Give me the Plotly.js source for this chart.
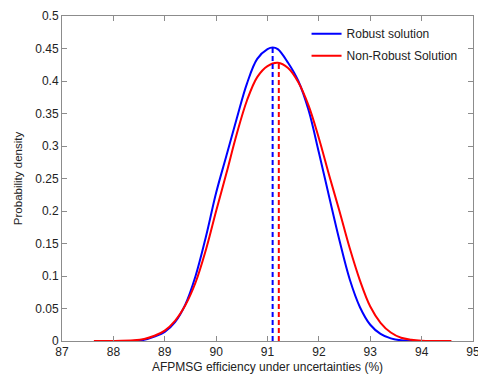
<!DOCTYPE html>
<html>
<head>
<meta charset="utf-8">
<script src="https://cdn.plot.ly/plotly-3.0.1.min.js"></script>
<style>
html,body{margin:0;padding:0;background:#fff;}
#chart{width:478px;height:374px;}
</style>
</head>
<body>
<div id="chart"></div>
<script>
// Robust solution (blue)
const robustX = [88.38, 88.6, 88.8, 89.0, 89.2, 89.4, 89.6, 89.8, 90.0, 90.2, 90.4, 90.6, 90.8, 91.0, 91.1, 91.2, 91.4, 91.6, 91.8, 92.0, 92.2, 92.4, 92.6, 92.8, 93.0, 93.2, 93.4, 93.6, 93.87];
const robustY = [0.000, 0.002, 0.007, 0.014, 0.029, 0.056, 0.100, 0.160, 0.228, 0.285, 0.342, 0.396, 0.434, 0.449, 0.4515, 0.449, 0.428, 0.400, 0.355, 0.290, 0.222, 0.155, 0.095, 0.052, 0.025, 0.011, 0.004, 0.001, 0.000];
// Non-robust solution (red)
const nonRobustX = [87.62, 88.0, 88.4, 88.6, 88.8, 89.0, 89.2, 89.4, 89.6, 89.8, 90.0, 90.2, 90.4, 90.6, 90.8, 91.0, 91.2, 91.4, 91.6, 91.8, 92.0, 92.2, 92.4, 92.6, 92.8, 93.0, 93.2, 93.4, 93.6, 93.8, 94.0, 94.2, 94.58];
const nonRobustY = [0.000, 0.000, 0.001, 0.003, 0.008, 0.016, 0.031, 0.055, 0.090, 0.140, 0.200, 0.258, 0.318, 0.370, 0.406, 0.423, 0.428, 0.420, 0.398, 0.362, 0.312, 0.255, 0.200, 0.143, 0.093, 0.053, 0.028, 0.013, 0.005, 0.002, 0.0005, 0.000, 0.000];
// Means (dashed markers)
const robustMean = 91.1, robustPeak = 0.4515;
const nonRobustMean = 91.22, nonRobustPeak = 0.428;
const seriesNames = ["Robust solution", "Non-Robust Solution"];
const xTicks = [87, 88, 89, 90, 91, 92, 93, 94, 95];
const yTicks = [0, 0.05, 0.1, 0.15, 0.2, 0.25, 0.3, 0.35, 0.4, 0.45, 0.5];
const yTickText = ["0", "0.05", "0.1", "0.15", "0.2", "0.25", "0.3", "0.35", "0.4", "0.45", "0.5"];

const BLUE = "#0000ff", RED = "#ff0000";
const traces = [
  {x: robustX, y: robustY, mode: "lines", name: seriesNames[0], legendgroup: "a",
   line: {color: BLUE, width: 2, shape: "spline", smoothing: 1}},
  {x: nonRobustX, y: nonRobustY, mode: "lines", name: seriesNames[1], legendgroup: "b",
   line: {color: RED, width: 2, shape: "spline", smoothing: 1}},
  {x: [robustMean, robustMean], y: [0, robustPeak], mode: "lines", showlegend: false, line: {color: BLUE, width: 2, dash: "5px,3px"}},
  {x: [nonRobustMean, nonRobustMean], y: [0, nonRobustPeak], mode: "lines", showlegend: false, line: {color: RED, width: 2, dash: "5px,3px"}}
];

const axisCommon = {
  showgrid: false, zeroline: false, showline: true, linecolor: "#8c8c8c", linewidth: 1,
  mirror: "ticks", ticks: "inside", ticklen: 5, tickcolor: "#8c8c8c", tickwidth: 1,
  ticklabeloverflow: "allow",
  tickfont: {family: "Liberation Sans, Arial, sans-serif", size: 12, color: "#222"}
};

const layout = {
  width: 478, height: 374,
  margin: {l: 62, r: 5, t: 16, b: 33, pad: 0},
  paper_bgcolor: "#fff", plot_bgcolor: "#fff",
  font: {family: "Liberation Sans, Arial, sans-serif", color: "#222"},
  showlegend: true,
  legend: {x: 0.595, y: 0.99, xanchor: "left", yanchor: "top", bgcolor: "rgba(0,0,0,0)", borderwidth: 0,
           font: {size: 12, color: "#222"}, tracegroupgap: 3, itemwidth: 30},
  xaxis: Object.assign({}, axisCommon, {
    range: [87, 95], tickvals: xTicks, ticktext: xTicks.map(String),
    title: {text: "AFPMSG efficiency under uncertainties (%)", font: {size: 12, color: "#222"}, standoff: 4}
  }),
  yaxis: Object.assign({}, axisCommon, {
    range: [0, 0.5], tickvals: yTicks, ticktext: yTickText,
    title: {text: "Probability density", font: {size: 11.5, color: "#222"}, standoff: 10}
  })
};

Plotly.newPlot("chart", traces, layout, {displayModeBar: false, staticPlot: true});
</script>
</body>
</html>
